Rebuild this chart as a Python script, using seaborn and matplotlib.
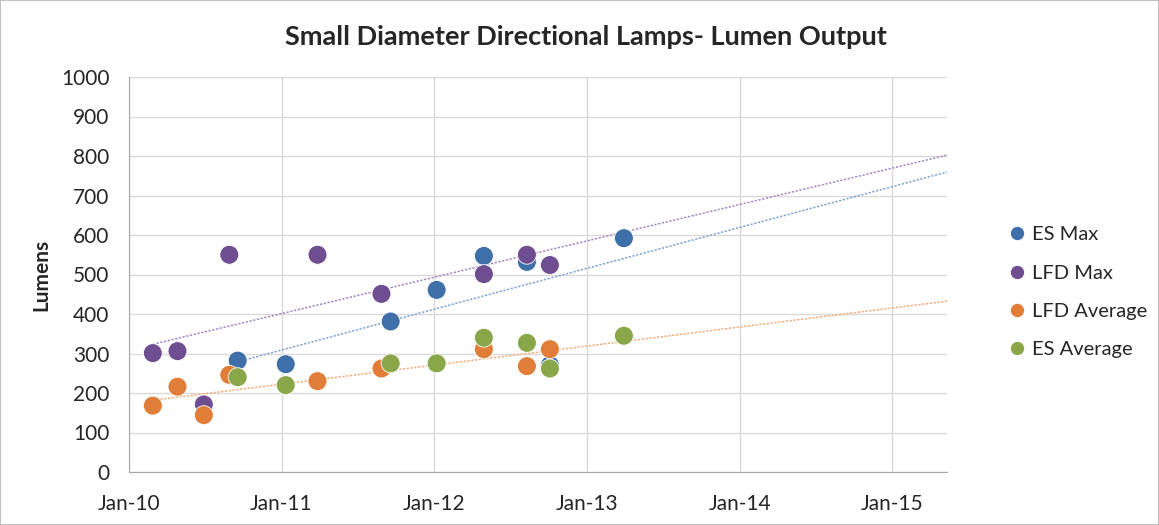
import pandas as pd
import numpy as np
import matplotlib
matplotlib.use('Agg')
import matplotlib.pyplot as plt
import matplotlib.dates as mdates
from matplotlib.patches import Rectangle
import seaborn as sns

# LFD products (LED lamps from the Lighting Facts database)
lfd_dates = ['2010-02-27', '2010-04-27', '2010-06-29', '2010-08-29', '2011-03-28',
             '2011-08-28', '2012-04-29', '2012-08-10', '2012-10-04']
lfd_max = [301, 306, 171, 550, 550, 451, 501, 550, 524]
lfd_avg = [168, 216, 144, 246, 230, 262, 311, 268, 311]

# ENERGY STAR products
es_dates = ['2010-09-18', '2011-01-11', '2011-09-19', '2012-01-07', '2012-04-29',
            '2012-08-10', '2012-10-04', '2013-03-30']
es_max = [282, 273, 381, 461, 547, 532, 271, 592]
es_avg = [240, 220, 275, 275, 340, 327, 262, 345]

series_names = ['ES Max', 'LFD Max', 'LFD Average', 'ES Average']
colors = ['#3F6FA8', '#6E4E90', '#E07D38', '#89A749']
trend_colors = {'ES Max': '#7FA6D6', 'LFD Max': '#A58BC4', 'LFD Average': '#F5AE7A'}

x_ticks = ['2010-01-01', '2011-01-01', '2012-01-01', '2013-01-01', '2014-01-01', '2015-01-01']
x_end = '2015-05-12'


def build_frame():
    parts = [
        pd.DataFrame({'date': es_dates, 'lumens': es_max, 'series': 'ES Max'}),
        pd.DataFrame({'date': lfd_dates, 'lumens': lfd_max, 'series': 'LFD Max'}),
        pd.DataFrame({'date': lfd_dates, 'lumens': lfd_avg, 'series': 'LFD Average'}),
        pd.DataFrame({'date': es_dates, 'lumens': es_avg, 'series': 'ES Average'}),
    ]
    df = pd.concat(parts, ignore_index=True)
    df['date'] = pd.to_datetime(df['date'])
    return df


def plot_chart():
    df = build_frame()
    sns.set_style('white')
    plt.rcParams['font.family'] = ['Lato', 'DejaVu Sans']

    fig = plt.figure(figsize=(11.59, 5.25), dpi=100)
    ax = fig.add_axes([129 / 1159, 1 - 472 / 525, (947 - 129) / 1159, (472 - 77) / 525])

    x_min = mdates.date2num(pd.Timestamp(x_ticks[0]))
    x_max = mdates.date2num(pd.Timestamp(x_end))

    # linear trend lines (forecast forward to end of axis), like Excel
    for name in ['ES Max', 'LFD Max', 'LFD Average']:
        sub = df[df['series'] == name]
        xs = mdates.date2num(sub['date'])
        k, b = np.polyfit(xs, sub['lumens'], 1)
        xx = np.array([xs.min(), x_max])
        ax.plot(xx, k * xx + b, color=trend_colors[name], lw=1.1,
                linestyle=(0, (1.5, 1)), zorder=2)

    sns.scatterplot(data=df, x='date', y='lumens', hue='series', hue_order=series_names,
                    palette=colors, s=185, edgecolor='white', linewidth=0.6,
                    ax=ax, zorder=3)

    ax.set_xlim(x_min, x_max)
    ax.set_ylim(0, 1000)
    ax.set_yticks(range(0, 1001, 100))
    ax.set_xticks(mdates.date2num(pd.to_datetime(x_ticks)))
    ax.xaxis.set_major_formatter(mdates.DateFormatter('%b-%y'))

    ax.grid(True, color='#D9D9D9', lw=1)
    ax.set_axisbelow(True)
    for side in ['top', 'right']:
        ax.spines[side].set_visible(False)
    for side in ['left', 'bottom']:
        ax.spines[side].set_color('#A6A6A6')
    ax.tick_params(axis='both', which='major', length=7, width=1, color='#A6A6A6',
                   labelsize=15, pad=7, direction='out')
    ax.tick_params(axis='x', pad=9)
    ax.set_xlabel('')
    ax.set_ylabel('Lumens', fontsize=15, fontweight='bold', labelpad=7)

    fig.suptitle('Small Diameter Directional Lamps- Lumen Output', x=586 / 1159, y=1 - 37 / 525,
                 va='center', fontsize=19.5, fontweight='bold')

    handles, labels = ax.get_legend_handles_labels()
    ax.legend(handles, labels, loc='center left', bbox_to_anchor=(1.076, 0.455),
              frameon=False, fontsize=14.5, handlelength=0.8, handletextpad=0.35,
              labelspacing=1.05, markerscale=0.75, borderaxespad=0, borderpad=0)

    fig.patches.append(Rectangle((0, 0), 1, 1, transform=fig.transFigure, fill=False,
                                 edgecolor='#BFBFBF', lw=1.5))
    fig.savefig('out.png', dpi=100)


if __name__ == '__main__':
    plot_chart()
